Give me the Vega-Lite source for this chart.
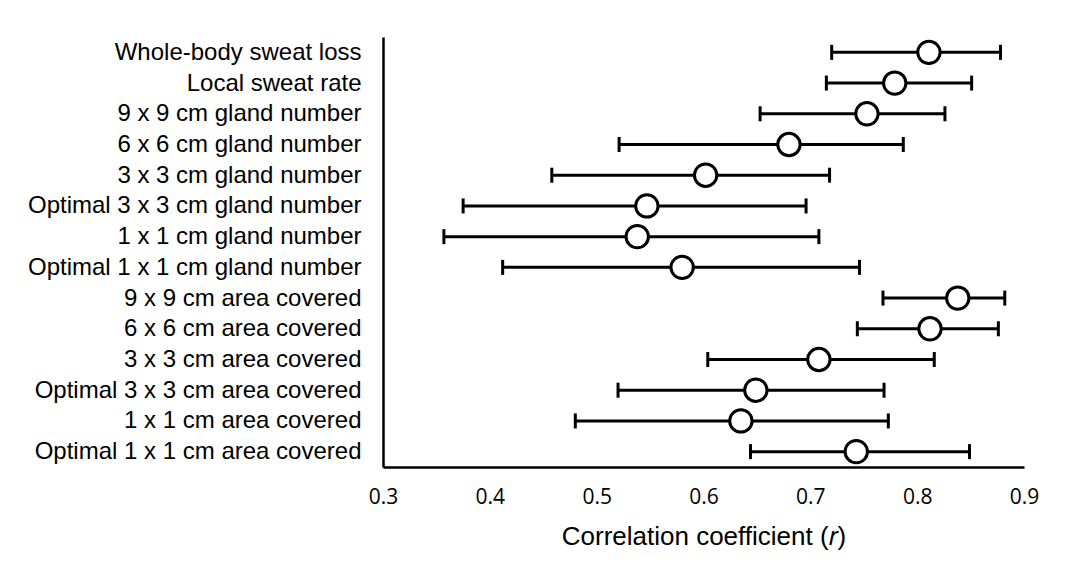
{
  "$schema": "https://vega.github.io/schema/vega-lite/v6.json",
  "autosize": {"type": "none"},
  "width": 641,
  "height": 430,
  "padding": {"left": 383, "top": 37, "right": 47, "bottom": 108},
  "background": "white",
  "config": {
    "view": {"stroke": null},
    "font": "Liberation Sans",
    "axis": {"labelColor": "black", "titleColor": "black", "domainColor": "black", "domainWidth": 2.5, "grid": false, "ticks": false},
    "axisX": {"labelFont": "Open Sans", "labelFontSize": 21, "labelPadding": 19, "labelFlush": false, "titleFontSize": 26, "titleFontWeight": "normal", "titlePadding": 16},
    "axisY": {"labelFontSize": 24, "labelPadding": 22, "labelLimit": 400}
  },
  "data": {
    "values": [
      {"label": "Whole-body sweat loss", "r": 0.811, "lo": 0.720, "hi": 0.878},
      {"label": "Local sweat rate", "r": 0.779, "lo": 0.715, "hi": 0.851},
      {"label": "9 x 9 cm gland number", "r": 0.753, "lo": 0.653, "hi": 0.826},
      {"label": "6 x 6 cm gland number", "r": 0.680, "lo": 0.521, "hi": 0.787},
      {"label": "3 x 3 cm gland number", "r": 0.602, "lo": 0.458, "hi": 0.718},
      {"label": "Optimal 3 x 3 cm gland number", "r": 0.547, "lo": 0.375, "hi": 0.696},
      {"label": "1 x 1 cm gland number", "r": 0.538, "lo": 0.357, "hi": 0.708},
      {"label": "Optimal 1 x 1 cm gland number", "r": 0.580, "lo": 0.412, "hi": 0.746},
      {"label": "9 x 9 cm area covered", "r": 0.838, "lo": 0.768, "hi": 0.882},
      {"label": "6 x 6 cm area covered", "r": 0.812, "lo": 0.744, "hi": 0.876},
      {"label": "3 x 3 cm area covered", "r": 0.708, "lo": 0.604, "hi": 0.816},
      {"label": "Optimal 3 x 3 cm area covered", "r": 0.649, "lo": 0.520, "hi": 0.769},
      {"label": "1 x 1 cm area covered", "r": 0.635, "lo": 0.480, "hi": 0.773},
      {"label": "Optimal 1 x 1 cm area covered", "r": 0.743, "lo": 0.644, "hi": 0.849}
    ]
  },
  "encoding": {
    "y": {
      "field": "label", "type": "nominal", "sort": null,
      "scale": {"type": "point", "padding": 0.5},
      "axis": {"title": null}
    }
  },
  "layer": [
    {
      "mark": {"type": "rule", "color": "black", "strokeWidth": 3},
      "encoding": {
        "x": {
          "field": "lo", "type": "quantitative",
          "scale": {"domain": [0.3, 0.9], "nice": false, "zero": false},
          "axis": {
            "title": "Correlation coefficient (𝑟)",
            "values": [0.3, 0.4, 0.5, 0.6, 0.7, 0.8, 0.9],
            "format": ".1f"
          }
        },
        "x2": {"field": "hi"}
      }
    },
    {
      "mark": {"type": "tick", "color": "black", "opacity": 1, "thickness": 3, "size": 15, "orient": "vertical"},
      "encoding": {"x": {"field": "lo", "type": "quantitative"}}
    },
    {
      "mark": {"type": "tick", "color": "black", "opacity": 1, "thickness": 3, "size": 15, "orient": "vertical"},
      "encoding": {"x": {"field": "hi", "type": "quantitative"}}
    },
    {
      "mark": {"type": "point", "shape": "circle", "filled": true, "fill": "white", "stroke": "black", "strokeWidth": 3, "size": 500, "opacity": 1},
      "encoding": {"x": {"field": "r", "type": "quantitative"}}
    }
  ]
}
